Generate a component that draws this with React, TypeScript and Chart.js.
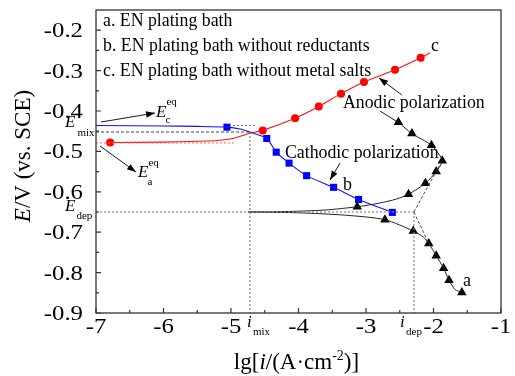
import React, { useEffect, useRef } from "react";
import { Chart, registerables } from "chart.js";

Chart.register(...registerables);

// ---------- data ----------
const xTickValues = [-7, -6, -5, -4, -3, -2, -1];
const xTickLabels = ["-7", "-6", "-5", "-4", "-3", "-2", "-1"];
const yTickValues = [-0.2, -0.3, -0.4, -0.5, -0.6, -0.7, -0.8, -0.9];
const yTickLabels = ["-0.2", "-0.3", "-0.4", "-0.5", "-0.6", "-0.7", "-0.8", "-0.9"];

const legendLines = [
  "a. EN plating bath",
  "b. EN plating bath without reductants",
  "c. EN plating bath without metal salts",
];

// curve a (EN plating bath) – black, triangles
const aUpperX = [-4.75, -4.2, -3.6, -3.13, -2.8, -2.55, -2.37, -2.12, -1.96, -1.87, -2.03, -2.32, -2.52];
const aUpperY = [-0.65, -0.649, -0.645, -0.637, -0.628, -0.618, -0.606, -0.579, -0.55, -0.523, -0.485, -0.456, -0.428];
const aLowerX = [-4.75, -4.0, -3.3, -2.72, -2.3, -2.15, -2.07, -1.96, -1.85, -1.77, -1.68, -1.58];
const aLowerY = [-0.65, -0.652, -0.658, -0.669, -0.697, -0.712, -0.728, -0.758, -0.789, -0.819, -0.842, -0.849];
const aMarkX = [-3.13, -2.37, -2.12, -1.96, -1.87, -2.03, -2.32, -2.52, -2.72, -2.3, -2.07, -1.96, -1.85, -1.77, -1.58];
const aMarkY = [-0.637, -0.606, -0.579, -0.55, -0.523, -0.485, -0.456, -0.428, -0.669, -0.697, -0.728, -0.758, -0.789, -0.819, -0.849];

// curve b (without reductants) – blue, squares
const bLineX = [-7, -6.0, -5.5, -5.06, -4.85, -4.72, -4.47, -4.33, -4.14, -3.88, -3.48, -3.11, -2.61];
const bLineY = [-0.436, -0.437, -0.438, -0.44, -0.445, -0.452, -0.468, -0.502, -0.529, -0.56, -0.589, -0.619, -0.651];
const bMarkX = [-5.06, -4.47, -4.33, -4.14, -3.88, -3.48, -3.11, -2.61];
const bMarkY = [-0.44, -0.468, -0.502, -0.529, -0.56, -0.589, -0.619, -0.651];

// curve c (without metal salts) – red, circles
const cLineX = [-6.79, -6.0, -5.5, -5.2, -4.97, -4.72, -4.53, -4.05, -3.7, -3.37, -3.03, -2.57, -2.19, -2.05];
const cLineY = [-0.478, -0.477, -0.475, -0.473, -0.468, -0.455, -0.448, -0.418, -0.389, -0.357, -0.328, -0.298, -0.268, -0.256];
const cMarkX = [-6.79, -4.53, -4.05, -3.7, -3.37, -3.03, -2.57, -2.19];
const cMarkY = [-0.478, -0.448, -0.418, -0.389, -0.357, -0.328, -0.298, -0.268];

// characteristic values
const eMix = -0.452;
const iMix = -4.72;
const eDep = -0.65;
const iDep = -2.29;
const eaEq = -0.479;
const ecEq = -0.436;
const eaEqRangeX = [-7, -4.95];
const ecEqRangeX = [-4.97, -4.65];
const tafelAnodicX = [iDep, -1.87];
const tafelAnodicY = [eDep, -0.522];
const tafelCathodicX = [iDep, -2.05];
const tafelCathodicY = [eDep, -0.735];

const X_MIN = -7, X_MAX = -1, Y_MIN = -0.9, Y_MAX = -0.15;

const pts = (xs: number[], ys: number[]) => xs.map((x, i) => ({ x, y: ys[i] }));

const SERIF = '"Liberation Serif", "Times New Roman", serif';

function drawArrow(ctx: CanvasRenderingContext2D, x1: number, y1: number, x2: number, y2: number, head = true) {
  ctx.beginPath();
  ctx.moveTo(x1, y1);
  ctx.lineTo(x2, y2);
  ctx.stroke();
  if (!head) return;
  const a = Math.atan2(y2 - y1, x2 - x1);
  const L = 9, W = 3.2;
  ctx.beginPath();
  ctx.moveTo(x2, y2);
  ctx.lineTo(x2 - L * Math.cos(a) + W * Math.sin(a), y2 - L * Math.sin(a) - W * Math.cos(a));
  ctx.lineTo(x2 - L * Math.cos(a) - W * Math.sin(a), y2 - L * Math.sin(a) + W * Math.cos(a));
  ctx.closePath();
  ctx.fill();
}

type Part = { t: string; f: string; dx?: number; dy?: number };
function drawParts(ctx: CanvasRenderingContext2D, x: number, y: number, parts: Part[], align: "left" | "center" = "left") {
  let w = 0;
  for (const p of parts) {
    ctx.font = p.f;
    w += ctx.measureText(p.t).width + (p.dx || 0);
  }
  let cx = align === "center" ? x - w / 2 : x;
  for (const p of parts) {
    ctx.font = p.f;
    cx += p.dx || 0;
    ctx.fillText(p.t, cx, y + (p.dy || 0));
    cx += ctx.measureText(p.t).width;
  }
}

function drawSym(ctx: CanvasRenderingContext2D, x: number, y: number, main: string, sub: string, sup: string | null, subDy: number, supDy: number, subDx = 0) {
  ctx.font = `italic 17px ${SERIF}`;
  ctx.fillText(main, x, y);
  const w = ctx.measureText(main).width;
  ctx.font = `11px ${SERIF}`;
  if (sup) ctx.fillText(sup, x + w, y + supDy);
  ctx.fillText(sub, x + w + subDx, y + subDy);
}

function wideText(ctx: CanvasRenderingContext2D, text: string, x: number, y: number, align: CanvasTextAlign, sx: number) {
  ctx.save();
  ctx.translate(x, y);
  ctx.scale(sx, 1);
  ctx.textAlign = align;
  ctx.fillText(text, 0, 0);
  ctx.restore();
}

const overlayPlugin = {
  id: "overlay",
  afterDraw(chart: any) {
    const { ctx, chartArea: ca } = chart;
    const xs = chart.scales.x;
    const ys = chart.scales.y;
    ctx.save();
    ctx.fillStyle = "#000";
    ctx.strokeStyle = "#333";
    ctx.lineWidth = 1.3;
    ctx.strokeRect(ca.left, ca.top, ca.right - ca.left, ca.bottom - ca.top);

    // ticks (inward)
    ctx.lineWidth = 1.2;
    ctx.beginPath();
    xTickValues.forEach((v, i) => {
      const p = xs.getPixelForValue(v);
      ctx.moveTo(p, ca.bottom);
      ctx.lineTo(p, ca.bottom - 5);
      if (i < xTickValues.length - 1) {
        const m = xs.getPixelForValue(v + 0.5);
        ctx.moveTo(m, ca.bottom);
        ctx.lineTo(m, ca.bottom - 3);
      }
    });
    yTickValues.forEach((v, i) => {
      const p = ys.getPixelForValue(v);
      ctx.moveTo(ca.left, p);
      ctx.lineTo(ca.left + 5, p);
      if (i < yTickValues.length - 1) {
        const m = ys.getPixelForValue(v - 0.05);
        ctx.moveTo(ca.left, m);
        ctx.lineTo(ca.left + 3, m);
      }
    });
    ctx.stroke();

    // tick labels
    ctx.font = `21px ${SERIF}`;
    ctx.textBaseline = "alphabetic";
    xTickValues.forEach((v, i) => {
      wideText(ctx, xTickLabels[i], xs.getPixelForValue(v), ca.bottom + 20, "center", 1.18);
    });
    yTickValues.forEach((v, i) => {
      wideText(ctx, yTickLabels[i], ca.left - 13, ys.getPixelForValue(v) + 7, "right", 1.18);
    });
    ctx.textAlign = "left";

    // axis titles
    const big = `23px ${SERIF}`;
    const bigI = `italic 23px ${SERIF}`;
    drawParts(
      ctx,
      (ca.left + ca.right) / 2 - 2,
      ca.bottom + 56,
      [
        { t: "lg[", f: big },
        { t: "i", f: bigI },
        { t: "/(A·cm", f: big },
        { t: "-2", f: `14px ${SERIF}`, dy: -9 },
        { t: ")]", f: big },
      ],
      "center"
    );
    ctx.save();
    ctx.translate(30, 156);
    ctx.rotate(-Math.PI / 2);
    drawParts(ctx, 0, 0, [
      { t: "E", f: bigI },
      { t: "/V (vs. SCE)", f: big },
    ], "center");
    ctx.restore();

    // legend text
    ctx.font = `17.8px ${SERIF}`;
    ctx.fillText(legendLines[0], 103, 26);
    ctx.fillText(legendLines[1], 103, 51);
    ctx.fillText(legendLines[2], 103, 76);

    // curve letters
    ctx.font = `18px ${SERIF}`;
    ctx.fillText("a", 463, 286);
    ctx.fillText("b", 343, 190);
    ctx.fillText("c", 431, 51);

    // polarization notes
    ctx.font = `17.8px ${SERIF}`;
    ctx.fillText("Anodic polarization", 343, 108);
    ctx.fillText("Cathodic polarization", 285, 158);

    // symbols
    drawSym(ctx, 65, 127, "E", "mix", null, 9, 0, 2);
    drawSym(ctx, 65, 211, "E", "dep", null, 8, 0, 1);
    drawSym(ctx, 156, 117, "E", "c", "eq", 6, -12, -1);
    drawSym(ctx, 138, 177, "E", "a", "eq", 8, -11, -1);
    ctx.font = `italic 17px ${SERIF}`;
    ctx.fillText("i", 247, 327);
    ctx.fillText("i", 400, 327);
    ctx.font = `11px ${SERIF}`;
    ctx.fillText("mix", 253, 335);
    ctx.fillText("dep", 406, 335);

    // arrows
    ctx.strokeStyle = "#000";
    ctx.fillStyle = "#000";
    ctx.lineWidth = 0.9;
    drawArrow(ctx, 101, 122, 155, 113);
    drawArrow(ctx, 100, 146, 136, 172);
    drawArrow(ctx, 402, 95, 379, 78);
    drawArrow(ctx, 380, 111, 396, 121, false);
    drawArrow(ctx, 340, 163, 330, 180);

    ctx.restore();
  },
};

export default function App() {
  const ref = useRef<HTMLCanvasElement | null>(null);
  useEffect(() => {
    if (!ref.current) return;
    const refLine = (xs: number[], ys: number[], color: string, dash: number[], width = 1) => ({
      data: pts(xs, ys),
      showLine: true,
      borderColor: color,
      borderDash: dash,
      borderWidth: width,
      pointRadius: 0,
      fill: false,
    });
    const chart = new Chart(ref.current, {
      type: "scatter",
      data: {
        datasets: [
          refLine([X_MIN, iMix], [eMix, eMix], "#444", [3, 2]),
          refLine([iMix, iMix], [eMix, Y_MIN], "#777", [2, 2], 1.2),
          refLine([X_MIN, iDep], [eDep, eDep], "#888", [2, 2], 1.2),
          refLine([iDep, iDep], [eDep, Y_MIN], "#888", [2, 2], 1.2),
          refLine(tafelAnodicX, tafelAnodicY, "#333", [3, 2], 0.9),
          refLine(tafelCathodicX, tafelCathodicY, "#333", [3, 2], 0.9),
          refLine(eaEqRangeX, [eaEq, eaEq], "#ff6060", [2, 2]),
          refLine(ecEqRangeX, [ecEq, ecEq], "#6060ff", [2, 2]),
          {
            data: pts(aUpperX, aUpperY),
            showLine: true,
            borderColor: "#222",
            borderWidth: 1,
            pointRadius: 0,
            tension: 0.25,
          },
          {
            data: pts(aLowerX, aLowerY),
            showLine: true,
            borderColor: "#222",
            borderWidth: 1,
            pointRadius: 0,
            tension: 0.25,
          },
          {
            data: pts(bLineX, bLineY),
            showLine: true,
            borderColor: "#1010ff",
            borderWidth: 1.1,
            pointRadius: 0,
            tension: 0.25,
          },
          {
            data: pts(cLineX, cLineY),
            showLine: true,
            borderColor: "#ff1010",
            borderWidth: 1.1,
            pointRadius: 0,
            tension: 0.25,
          },
          {
            data: pts(aMarkX, aMarkY),
            showLine: false,
            pointStyle: "triangle",
            pointRadius: 5.5,
            backgroundColor: "#000",
            borderColor: "#000",
            borderWidth: 0,
          },
          {
            data: pts(bMarkX, bMarkY),
            showLine: false,
            pointStyle: "rect",
            pointRadius: 5,
            backgroundColor: "#0000ff",
            borderColor: "#0000ff",
            borderWidth: 0,
          },
          {
            data: pts(cMarkX, cMarkY),
            showLine: false,
            pointStyle: "circle",
            pointRadius: 4,
            backgroundColor: "#ff0000",
            borderColor: "#ff0000",
            borderWidth: 0,
          },
        ] as any,
      },
      options: {
        responsive: false,
        maintainAspectRatio: false,
        animation: false,
        devicePixelRatio: 1,
        layout: { padding: { left: 96, top: 10, right: 14, bottom: 63 } },
        plugins: { legend: { display: false }, tooltip: { enabled: false } },
        scales: {
          x: { type: "linear", min: X_MIN, max: X_MAX, display: false },
          y: { type: "linear", min: Y_MIN, max: Y_MAX, display: false },
        },
      },
      plugins: [overlayPlugin],
    });
    return () => chart.destroy();
  }, []);
  return (
    <div style={{ position: "absolute", left: 0, top: 0, width: 515, height: 376, background: "#fff" }}>
      <canvas ref={ref} width={515} height={376} style={{ display: "block", width: 515, height: 376 }} />
    </div>
  );
}
